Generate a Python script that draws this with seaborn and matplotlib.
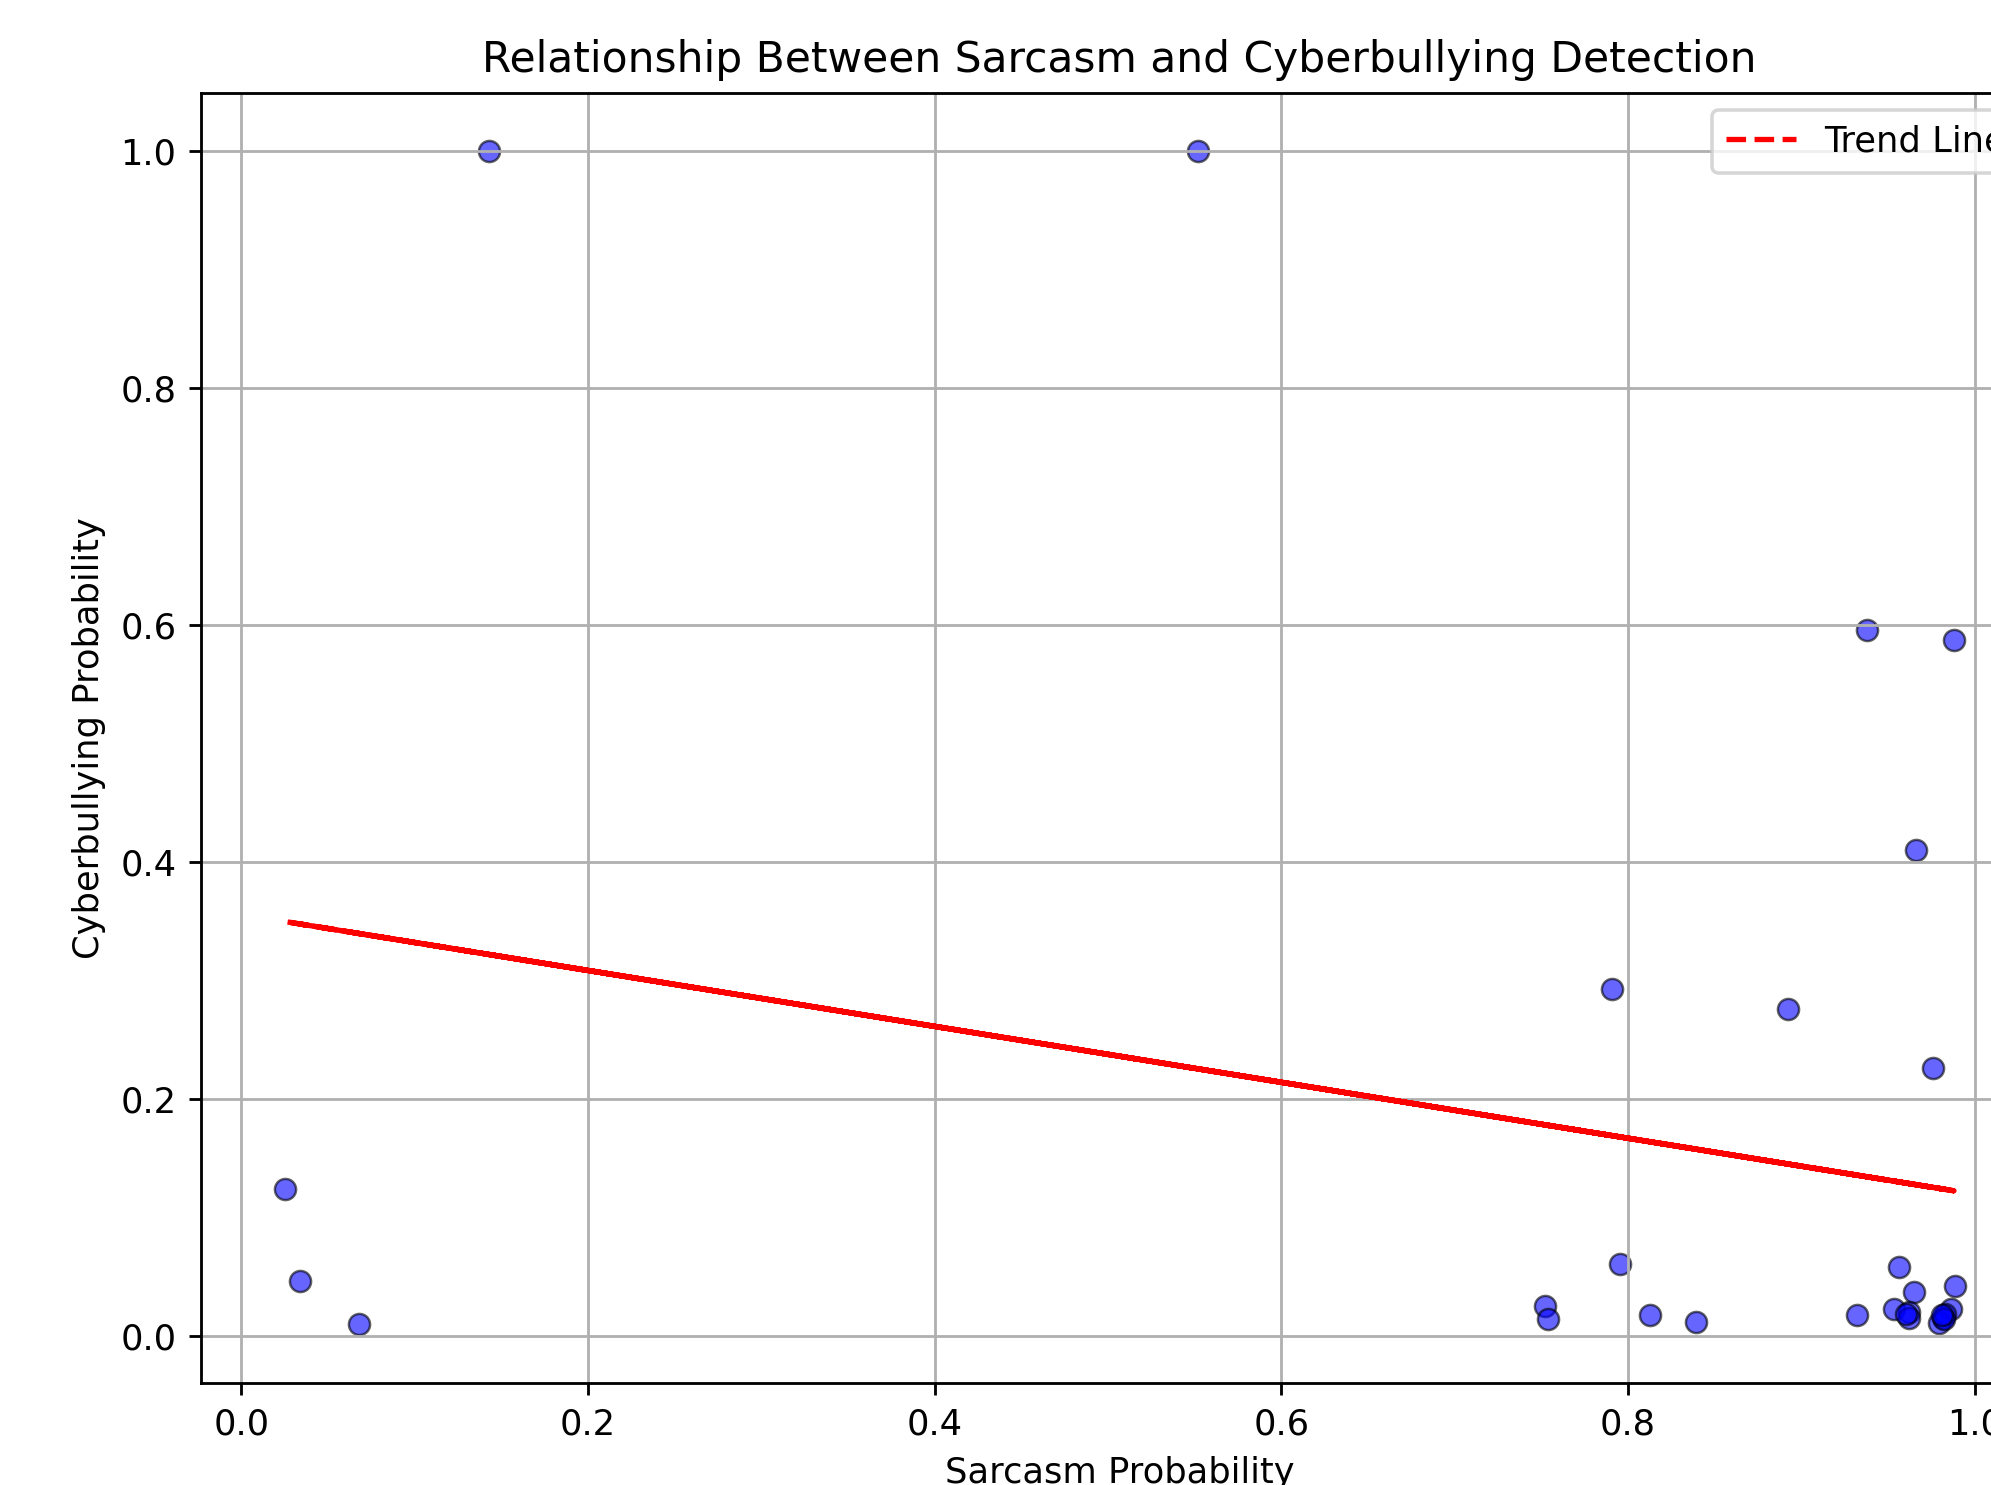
import numpy as np
import pandas as pd
import matplotlib
matplotlib.use("Agg")
import matplotlib.pyplot as plt
import seaborn as sns

# valores (probabilidades por comentario, sin ordenar)
sarcasm_prob = [0.938, 0.143, 0.988, 0.552, 0.966, 0.0249, 0.791, 0.0338,
                0.8925, 0.0677, 0.976, 0.7522, 0.7537, 0.7954, 0.8129, 0.8394,
                0.9322, 0.9563, 0.965, 0.9534, 0.9621, 0.962, 0.9883, 0.9863,
                0.9815, 0.9796, 0.983, 0.9605, 0.9825, 0.9810]
cyber_prob = [0.596, 1.0, 0.587, 1.0, 0.410, 0.1235, 0.2926, 0.0462,
              0.2758, 0.0097, 0.2258, 0.025, 0.0138, 0.0606, 0.0175, 0.0113,
              0.0175, 0.058, 0.037, 0.0223, 0.020, 0.0152, 0.0415, 0.0223,
              0.0152, 0.011, 0.018, 0.0185, 0.0140, 0.0170]

df = pd.DataFrame({"sarcasm": sarcasm_prob, "cyber": cyber_prob})

DPI = 254
fig = plt.figure(figsize=(1991 / DPI, 1485 / DPI), dpi=DPI)
# el original esta recortado a la derecha y abajo
ax = fig.add_axes([201 / 1991, (1485 - 1382.7) / 1485,
                   1837 / 1991, 1290 / 1485])

sns.scatterplot(data=df, x="sarcasm", y="cyber", color="blue", alpha=0.6,
                edgecolor="black", s=36, linewidth=0.7, ax=ax)

# linea de tendencia (ajuste lineal), sin ordenar x como en el original
z = np.polyfit(df["sarcasm"], df["cyber"], 1)
p = np.poly1d(z)
ax.plot(df["sarcasm"], p(df["sarcasm"]), "r--", label="Trend Line")

ax.set_title("Relationship Between Sarcasm and Cyberbullying Detection")
ax.set_xlabel("Sarcasm Probability")
ax.set_ylabel("Cyberbullying Probability")
ax.legend()
ax.grid(True)

fig.savefig("out.png", dpi=DPI)
